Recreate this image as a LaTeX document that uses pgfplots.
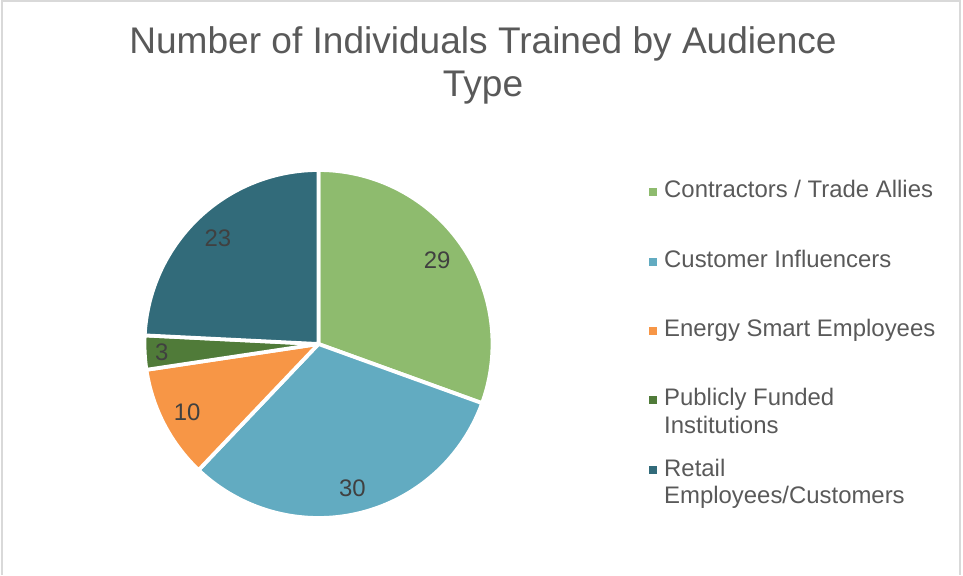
\documentclass[border=0pt]{standalone}
\usepackage{fontspec}
\setmainfont{Liberation Sans}
\usepackage{pgfplots}
\usepackage{pgfplotstable}
\pgfplotsset{compat=1.18}

\definecolor{cContr}{HTML}{8EBB6E}
\definecolor{cCust}{HTML}{62ABC1}
\definecolor{cEnergy}{HTML}{F79646}
\definecolor{cPublic}{HTML}{507B39}
\definecolor{cRetail}{HTML}{326B7A}
\definecolor{txt}{HTML}{595959}
\definecolor{lbl}{HTML}{404040}
\definecolor{frame}{HTML}{D9D9D9}

% individuals trained, in the order of the legend
\pgfplotstableread{
value
29
30
10
3
23
}\piedata

\begin{document}
\begin{tikzpicture}
\pgfplotstablegetelem{0}{value}\of\piedata \let\vA\pgfplotsretval
\pgfplotstablegetelem{1}{value}\of\piedata \let\vB\pgfplotsretval
\pgfplotstablegetelem{2}{value}\of\piedata \let\vC\pgfplotsretval
\pgfplotstablegetelem{3}{value}\of\piedata \let\vD\pgfplotsretval
\pgfplotstablegetelem{4}{value}\of\piedata \let\vE\pgfplotsretval
\pgfmathsetmacro\tot{\vA+\vB+\vC+\vD+\vE}
% slice edges, clockwise from 12 o'clock
\pgfmathsetmacro\bA{90}
\pgfmathsetmacro\bB{\bA-360*\vA/\tot}
\pgfmathsetmacro\bC{\bB-360*\vB/\tot}
\pgfmathsetmacro\bD{\bC-360*\vC/\tot}
\pgfmathsetmacro\bE{\bD-360*\vD/\tot}
\pgfmathsetmacro\bF{\bE-360*\vE/\tot}
\def\cx{318.5}\def\cy{231}\def\R{174}
% label positions
\pgfmathsetmacro\lAx{\cx+145*cos((\bA+\bB)/2)}\pgfmathsetmacro\lAy{\cy+145*sin((\bA+\bB)/2)}
\pgfmathsetmacro\lBx{\cx+148*cos((\bB+\bC)/2)}\pgfmathsetmacro\lBy{\cy+148*sin((\bB+\bC)/2)}
\pgfmathsetmacro\lCx{\cx+148*cos((\bC+\bD)/2)}\pgfmathsetmacro\lCy{\cy+148*sin((\bC+\bD)/2)}
\pgfmathsetmacro\lDx{\cx+157*cos((\bD+\bE)/2)}\pgfmathsetmacro\lDy{\cy+157*sin((\bD+\bE)/2)}
\pgfmathsetmacro\lEx{\cx+146*cos((\bE+\bF)/2)}\pgfmathsetmacro\lEy{\cy+146*sin((\bE+\bF)/2)}

\begin{axis}[
  width=963bp, height=575bp, scale only axis,
  xmin=0, xmax=963, ymin=0, ymax=575,
  hide axis, clip=false,
  every axis plot/.append style={draw=white, line width=3.8pt, line join=round, samples=90},
]
  \path (axis cs:0,0) rectangle (axis cs:963,575);
  \draw[frame, line width=1.5pt] (axis cs:2,0) -- (axis cs:2,574) -- (axis cs:960,574) -- (axis cs:960,0);

  \addplot[fill=cContr,  domain=\bA:\bB] ({\cx+\R*cos(x)},{\cy+\R*sin(x)}) -- (axis cs:\cx,\cy) -- cycle;
  \addplot[fill=cCust,   domain=\bB:\bC] ({\cx+\R*cos(x)},{\cy+\R*sin(x)}) -- (axis cs:\cx,\cy) -- cycle;
  \addplot[fill=cEnergy, domain=\bC:\bD] ({\cx+\R*cos(x)},{\cy+\R*sin(x)}) -- (axis cs:\cx,\cy) -- cycle;
  \addplot[fill=cPublic, domain=\bD:\bE] ({\cx+\R*cos(x)},{\cy+\R*sin(x)}) -- (axis cs:\cx,\cy) -- cycle;
  \addplot[fill=cRetail, domain=\bE:\bF] ({\cx+\R*cos(x)},{\cy+\R*sin(x)}) -- (axis cs:\cx,\cy) -- cycle;

  \begin{scope}[every node/.style={lbl, font=\fontsize{24}{29}\selectfont, inner sep=0pt}]
    \node at (axis cs:\lAx,\lAy) {\vA};
    \node at (axis cs:\lBx,\lBy) {\vB};
    \node at (axis cs:\lCx,\lCy) {\vC};
    \node at (axis cs:\lDx,\lDy) {\vD};
    \node at (axis cs:\lEx,\lEy) {\vE};
  \end{scope}

  % title
  \begin{scope}[every node/.style={txt, font=\fontsize{37.2}{44}\selectfont, anchor=base, inner sep=0pt}]
    \node at (axis cs:483,521) {Number of Individuals Trained by Audience};
    \node at (axis cs:483,478) {Type};
  \end{scope}

  % legend
  \begin{scope}[every node/.style={txt, font=\fontsize{24}{29}\selectfont, anchor=base west, inner sep=0pt}]
    \fill[cContr]  (axis cs:649,379) rectangle (axis cs:657,387);
    \node at (axis cs:664,377) {Contractors / Trade Allies};
    \fill[cCust]   (axis cs:649,309) rectangle (axis cs:657,317);
    \node at (axis cs:664,307) {Customer Influencers};
    \fill[cEnergy] (axis cs:649,240) rectangle (axis cs:657,248);
    \node at (axis cs:664,238) {Energy Smart Employees};
    \fill[cPublic] (axis cs:649,171) rectangle (axis cs:657,179);
    \node at (axis cs:664,169) {Publicly Funded};
    \node at (axis cs:664,142) {Institutions};
    \fill[cRetail] (axis cs:649,101) rectangle (axis cs:657,109);
    \node at (axis cs:664,99) {Retail};
    \node at (axis cs:664,72) {Employees/Customers};
  \end{scope}
\end{axis}
\end{tikzpicture}
\end{document}
